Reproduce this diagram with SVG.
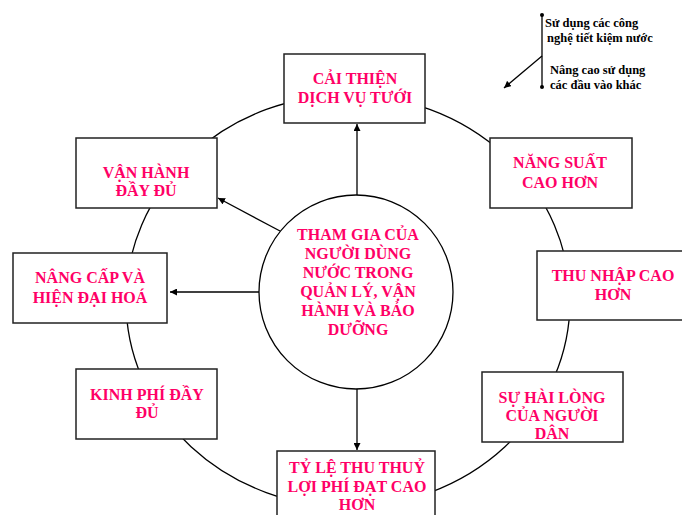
<svg xmlns="http://www.w3.org/2000/svg" width="682" height="515" viewBox="0 0 682 515">
<defs>
<style>
.box{fill:#fff;stroke:#222;stroke-width:1.5}
.t{font-family:"Liberation Serif","Times New Roman",serif;font-weight:bold;font-size:16px;fill:#FF0066;text-anchor:middle}
.lg{font-family:"Liberation Serif","Times New Roman",serif;font-weight:bold;font-size:12.5px;fill:#000}
.ln{fill:none;stroke:#000;stroke-width:1.3}
</style>
<marker id="ah" viewBox="0 0 10 10" refX="10" refY="5" markerWidth="7" markerHeight="7" markerUnits="userSpaceOnUse" orient="auto">
<path d="M0,0 L10,5 L0,10 z" fill="#000"/>
</marker>
</defs>
<rect width="682" height="515" fill="#fff"/>
<g id="ring"><ellipse class="ln" cx="348" cy="301" rx="222" ry="206"/></g>
<g id="connectors">
<line class="ln" x1="357" y1="195" x2="357" y2="124" marker-end="url(#ah)"/>
<line class="ln" x1="280" y1="231" x2="218" y2="198" marker-end="url(#ah)"/>
<line class="ln" x1="259" y1="292" x2="170" y2="292" marker-end="url(#ah)"/>
<line class="ln" x1="357" y1="389" x2="357" y2="450" marker-end="url(#ah)"/>
</g>
<g id="center">
<circle cx="356" cy="292" r="97" fill="#fff" stroke="#000" stroke-width="1.3"/>
<text class="t" x="358" y="240">THAM GIA CỦA</text>
<text class="t" x="358" y="259">NGƯỜI DÙNG</text>
<text class="t" x="358" y="278">NƯỚC TRONG</text>
<text class="t" x="358" y="297">QUẢN LÝ, VẬN</text>
<text class="t" x="358" y="316">HÀNH VÀ BẢO</text>
<text class="t" x="358" y="335">DƯỠNG</text>
</g>
<g id="n1"><rect class="box" x="284" y="54" width="141" height="69"/>
<text class="t" x="355" y="84">CẢI THIỆN</text><text class="t" x="355" y="103">DỊCH VỤ TƯỚI</text></g>
<g id="n2"><rect class="box" x="490" y="138" width="142" height="70"/>
<text class="t" x="560" y="168">NĂNG SUẤT</text><text class="t" x="560" y="188">CAO HƠN</text></g>
<g id="n3"><rect class="box" x="537" y="251" width="152" height="69"/>
<text class="t" x="613" y="281">THU NHẬP CAO</text><text class="t" x="613" y="300">HƠN</text></g>
<g id="n4"><rect class="box" x="482" y="372" width="141" height="70"/>
<text class="t" x="552" y="403">SỰ HÀI LÒNG</text><text class="t" x="552" y="421">CỦA NGƯỜI</text><text class="t" x="552" y="439">DÂN</text></g>
<g id="n5"><rect class="box" x="277" y="451" width="158" height="75"/>
<text class="t" x="357" y="473">TỶ LỆ THU THUỶ</text><text class="t" x="357" y="492">LỢI PHÍ ĐẠT CAO</text><text class="t" x="357" y="510">HƠN</text></g>
<g id="n6"><rect class="box" x="76" y="369" width="141" height="70"/>
<text class="t" x="147" y="400">KINH PHÍ ĐẦY</text><text class="t" x="147" y="418">ĐỦ</text></g>
<g id="n7"><rect class="box" x="13" y="253" width="154" height="70"/>
<text class="t" x="90" y="283">NÂNG CẤP VÀ</text><text class="t" x="90" y="303">HIỆN ĐẠI HOÁ</text></g>
<g id="n8"><rect class="box" x="76" y="138" width="141" height="70"/>
<text class="t" x="146" y="178">VẬN HÀNH</text><text class="t" x="146" y="196">ĐẦY ĐỦ</text></g>
<g id="legend">
<line class="ln" x1="542" y1="15" x2="542" y2="87"/>
<circle cx="542" cy="15" r="2" fill="#000"/>
<circle cx="542" cy="87" r="2" fill="#000"/>
<line class="ln" x1="542" y1="56" x2="504" y2="88" marker-end="url(#ah)"/>
<text class="lg" x="545" y="27">Sử dụng các công</text>
<text class="lg" x="547" y="42">nghệ tiết kiệm nước</text>
<text class="lg" x="550" y="74">Nâng cao sử dụng</text>
<text class="lg" x="550" y="89">các đầu vào khác</text>
</g>
</svg>
